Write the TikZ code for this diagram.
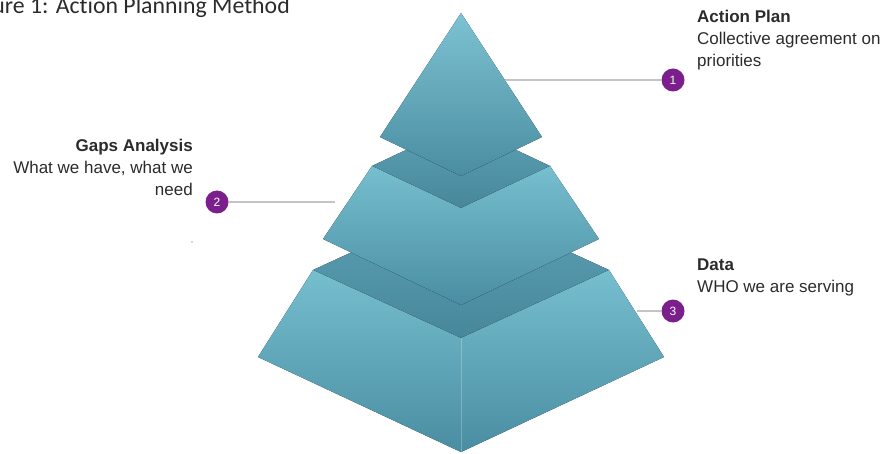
\documentclass[tikz,border=0pt]{standalone}
\usepackage{fontspec}
\setmainfont{Liberation Sans}
\newfontfamily\titlefont[Ligatures=NoCommon]{Carlito}
\definecolor{pyrlight}{HTML}{76BFCF}
\definecolor{pyrdark}{HTML}{4A8DA2}
\definecolor{topl}{HTML}{5CA2B5}
\definecolor{topd}{HTML}{48879B}
\definecolor{numpurple}{HTML}{7B1F8C}
\definecolor{leadgray}{HTML}{C4C4C4}
\definecolor{labtext}{HTML}{2B2B2B}
\tikzset{
  sideface/.style={top color=pyrlight, bottom color=pyrdark, draw=none},
  upperface/.style={top color=topl, bottom color=topd, draw=none},
  numdot/.style={circle, fill=numpurple, text=white, minimum size=23pt, inner sep=0pt, font=\fontsize{12}{12}\selectfont},
  leader/.style={draw=leadgray, line width=1.2pt},
  lab/.style={inner sep=0pt, text=labtext, font=\fontsize{17}{22}\selectfont},
}
\begin{document}
\begin{tikzpicture}[x=1pt,y=-1pt]
\useasboundingbox (0,0) rectangle (888,454);
\begin{scope}
\clip (0,0) rectangle (888,454);
% title
\node[anchor=base east, inner sep=0pt, font=\titlefont\fontsize{23.8}{23.8}\selectfont, text=labtext] (title) at (290,14) {Figure 1: Action Planning Method};

% bottom tier
\coordinate (bTL) at (313,270);
\coordinate (bTF) at (461,338);
\coordinate (bTR) at (609,270);
\coordinate (bTB) at (461,202);
\coordinate (bBL) at (258,357);
\coordinate (bBF) at (461,452);
\coordinate (bBR) at (664,357);
\fill[upperface] (bTL) -- (bTB) -- (bTR) -- (bTF) -- cycle;
\fill[sideface] (bTL) -- (bTF) -- (bBF) -- (bBL) -- cycle;
\fill[sideface] (bTF) -- (bTR) -- (bBR) -- (bBF) -- cycle;
\draw[white, opacity=0.25, line width=0.6pt] (bTF) -- (bBF);

% middle tier
\coordinate (mTL) at (372,166);
\coordinate (mTF) at (461,208);
\coordinate (mTR) at (550,166);
\coordinate (mTB) at (461,124);
\coordinate (mBL) at (323,239);
\coordinate (mBF) at (461,305);
\coordinate (mBR) at (599,239);
\fill[upperface] (mTL) -- (mTB) -- (mTR) -- (mTF) -- cycle;
\fill[sideface] (mTL) -- (mTF) -- (mTR) -- (mBR) -- (mBF) -- (mBL) -- cycle;

% top diamond
\coordinate (tA) at (461,13);
\coordinate (tL) at (380,137);
\coordinate (tR) at (542,137);
\coordinate (tB) at (461,176);
\fill[sideface, top color=pyrlight!95!white] (tA) -- (tR) -- (tB) -- (tL) -- cycle;

% markers and leaders
\node[numdot] (n1) at (673,80) {1};
\node[numdot] (n2) at (217,202) {2};
\node[numdot] (n3) at (673,311) {3};
\coordinate (l1) at (505,80);
\coordinate (l2) at (335,202);
\coordinate (l3) at (637,311);
\draw[leader] (l1) -- (n1.west);
\draw[leader] (n2.east) -- (l2);
\draw[leader] (l3) -- (n3.west);

% labels (base anchor = baseline of the last line)
\node[lab, anchor=base west, align=left] (t1) at (697,67) {\textbf{Action Plan}\\Collective agreement on\\priorities};
\node[lab, anchor=base east, align=right] (t2) at (193,196) {\textbf{Gaps Analysis}\\What we have, what we\\need};
\node[lab, anchor=base west, align=left] (t3) at (697,292) {\textbf{Data}\\WHO we are serving};

% stray dot
\fill[gray!60] (192,242) circle (0.9);
\end{scope}
\end{tikzpicture}
\end{document}
